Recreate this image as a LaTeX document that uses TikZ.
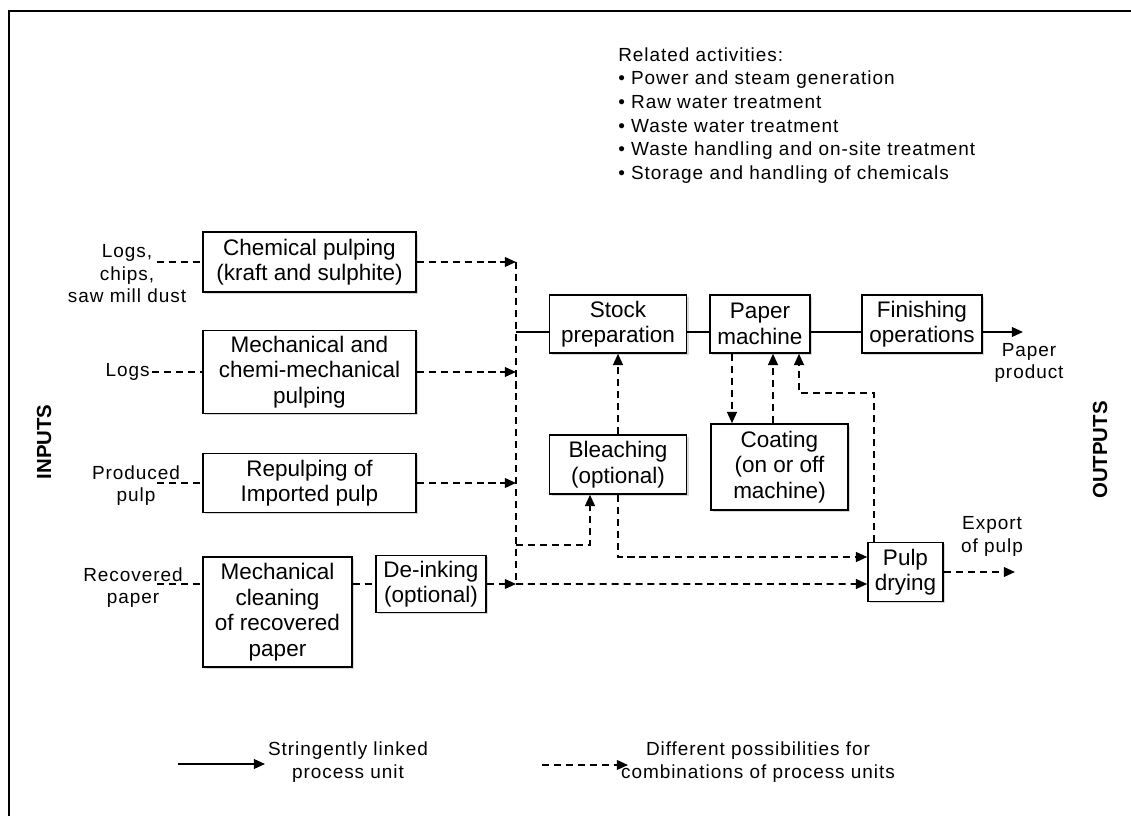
\documentclass[tikz,border=0pt]{standalone}
\usepackage{fontspec}
\setmainfont{Liberation Sans}
\newfontfamily\spacedfont[LetterSpace=5]{Liberation Sans}
\usetikzlibrary{arrows.meta,shadows}
\tikzset{
  unit/.style={draw, line width=1.1pt, fill=white, align=center, inner sep=0pt,
               font=\fontsize{16}{18.2}\selectfont,
               drop shadow={shadow xshift=0.05cm, shadow yshift=-0.05cm, fill=black!30}},
  tag/.style={align=center, inner sep=0pt, font=\spacedfont\fontsize{13.5}{16}\selectfont},
  sidetag/.style={inner sep=0pt, rotate=90, font=\bfseries\fontsize{14.5}{16}\selectfont},
  solidline/.style={line width=1.2pt},
  optline/.style={line width=1.2pt, dash pattern=on 5pt off 3.5pt},
  tip/.style={-{Triangle[length=8pt,width=7pt]}},
}

\begin{document}
\begin{tikzpicture}
  \useasboundingbox (0,0) rectangle (28.275,20.4);
  \draw[line width=1.4pt] (0.225,-1) -- (0.225,20.125) -- (29,20.125);

  \node[anchor=north west, align=left, inner sep=0pt, font=\spacedfont\fontsize{13.5}{16.8}\selectfont] (related) at (15.45,19.22)
    {Related activities:\\
     \textbullet\ Power and steam generation\\
     \textbullet\ Raw water treatment\\
     \textbullet\ Waste water treatment\\
     \textbullet\ Waste handling and on-site treatment\\
     \textbullet\ Storage and handling of chemicals};

  \node[unit, minimum width=5.325cm, minimum height=1.5cm] (chem) at (7.7375,13.85) {Chemical pulping\\(kraft and sulphite)};
  \node[unit, minimum width=5.325cm, minimum height=2.075cm] (mech) at (7.7375,11.1) {Mechanical and\\chemi-mechanical\\pulping};
  \node[unit, minimum width=5.325cm, minimum height=1.475cm] (repulp) at (7.7375,8.325) {Repulping of\\Imported pulp};
  \node[unit, minimum width=3.725cm, minimum height=2.75cm] (clean) at (6.9375,5.1) {Mechanical\\cleaning\\of recovered\\paper};
  \node[unit, minimum width=2.75cm, minimum height=1.425cm] (deink) at (10.775,5.8) {De-inking\\(optional)};
  \node[unit, minimum width=3.425cm, minimum height=1.45cm] (stock) at (15.45,12.3) {Stock\\preparation};
  \node[unit, minimum width=2.5cm, minimum height=1.45cm] (paper) at (19.0,12.3) {Paper\\machine};
  \node[unit, minimum width=3.0cm, minimum height=1.45cm] (finish) at (23.05,12.3) {Finishing\\operations};
  \node[unit, minimum width=3.425cm, minimum height=1.475cm] (bleach) at (15.45,8.7875) {Bleaching\\(optional)};
  \node[unit, minimum width=3.425cm, minimum height=2.15cm] (coat) at (19.4875,8.725) {Coating\\(on or off\\machine)};
  \node[unit, minimum width=1.875cm, minimum height=1.475cm] (dry) at (22.6375,6.1) {Pulp\\drying};

  \node[tag] (logschips) at (3.175,13.55) {Logs,\\chips,\\saw mill dust};
  \node[tag, anchor=east] (logs) at (3.75,11.1) {Logs};
  \node[tag] (produced) at (3.4,8.2625) {Produced\\pulp};
  \node[tag] (recovered) at (3.325,5.7125) {Recovered\\paper};
  \node[tag] (product) at (25.725,11.325) {Paper\\product};
  \node[tag] (export) at (24.8,6.9875) {Export\\of pulp};
  \node[sidetag] (inputs) at (1.1,9.35) {INPUTS};
  \node[sidetag] (outputs) at (27.5,9.15) {OUTPUTS};

  \coordinate (bus) at (12.9,12.1);
  \coordinate (in1) at (3.925,13.85);
  \coordinate (in2) at (3.8,11.1);
  \coordinate (in3) at (3.925,8.325);
  \coordinate (in4) at (3.925,5.8);
  \coordinate (bleachin) at (12.9,6.775);
  \coordinate (back) at (19.975,10.575);
  \coordinate (outprod) at (25.575,12.1);
  \coordinate (outpulp) at (25.375,6.1);

  \draw[optline] (in1) -- (chem.west);
  \draw[optline] (in2) -- (mech.west);
  \draw[optline] (in3) -- (repulp.west);
  \draw[optline] (in4) -- (clean.west |- in4);
  \draw[optline] (clean.east |- deink.east) -- (deink.west);

  \draw[optline, tip] (chem.east) -- (chem.east -| bus);
  \draw[optline, tip] (mech.east) -- (mech.east -| bus);
  \draw[optline, tip] (repulp.east) -- (repulp.east -| bus);
  \draw[optline, tip] (deink.east) -- (deink.east -| bus);
  \draw[optline] (chem.east -| bus) -- (deink.east -| bus);
  \draw[optline, tip] (deink.east -| bus) -- ([yshift=-0.3cm]dry.west);
  \draw[optline, tip] (bleachin) -| ([xshift=-0.7cm]bleach.south);
  \draw[optline, tip] (bleach.south) |- ([yshift=0.375cm]dry.west);
  \draw[optline, tip] (bleach.north) -- (stock.south);

  \draw[solidline] (bus) -- (stock.west |- bus);
  \draw[solidline] (stock.east |- bus) -- (paper.west |- bus);
  \draw[solidline] (paper.east |- bus) -- (finish.west |- bus);
  \draw[solidline, tip] (finish.east |- bus) -- (outprod);

  \draw[optline, tip] ([xshift=-0.7cm]paper.south) -- ([xshift=-0.7cm]paper.south |- coat.north);
  \draw[optline, tip] ([xshift=0.325cm]paper.south |- coat.north) -- ([xshift=0.325cm]paper.south);
  \draw[optline, tip] ([xshift=-0.7875cm]dry.north) |- (back) -- (back |- paper.south);
  \draw[optline, tip] (dry.east) -- (outpulp);

  \coordinate (keyA) at (4.45,1.3);
  \coordinate (keyB) at (6.625,1.3);
  \coordinate (keyC) at (13.55,1.275);
  \coordinate (keyD) at (15.7,1.275);
  \draw[solidline, tip] (keyA) -- (keyB);
  \node[tag] (keytextA) at (8.7,1.35) {Stringently linked\\process unit};
  \draw[optline, tip] (keyC) -- (keyD);
  \node[tag] (keytextB) at (18.95,1.35) {Different possibilities for\\combinations of process units};
\end{tikzpicture}
\end{document}
